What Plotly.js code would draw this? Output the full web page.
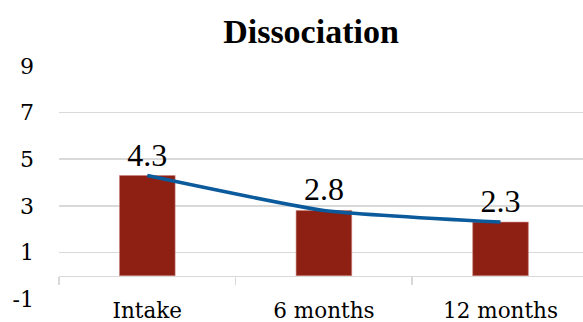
<!DOCTYPE html>
<html>
<head>
<meta charset="utf-8">
<script src="https://cdn.plot.ly/plotly-3.0.1.min.js"></script>
<style>html,body{margin:0;padding:0;background:#fff;}#chart{width:583px;height:322px;}</style>
</head>
<body>
<div id="chart"></div>
<script>
var categories = ["Intake", "6 months", "12 months"];
var values = [4.3, 2.8, 2.3];
var yTicks = [-1, 1, 3, 5, 7, 9];
var chartTitle = "Dissociation";

var idx = categories.map(function (c, i) { return i; });

var bars = {
  type: "bar",
  x: idx,
  y: values,
  width: 0.315,
  marker: { color: "#8e1f13", line: { color: "#c9837c", width: 0.6 } },
  text: values.map(function (v) { return v.toFixed(1); }),
  textposition: "outside",
  textfont: { family: "Liberation Serif", size: 32, color: "#000" },
  cliponaxis: false,
  hoverinfo: "skip",
  showlegend: false
};

var line = {
  type: "scatter",
  mode: "lines",
  x: idx,
  y: values,
  line: { color: "#0b5a9c", width: 3.5, shape: "spline", smoothing: 0.5 },
  hoverinfo: "skip",
  showlegend: false
};

var axisAtZero = {
  type: "scatter",
  mode: "lines",
  x: [null],
  y: [null],
  xaxis: "x2",
  yaxis: "y",
  hoverinfo: "skip",
  showlegend: false
};

var xr = [-0.5, 2.467];
var layout = {
  width: 583,
  height: 322,
  margin: { l: 59, r: 0, t: 66, b: 23 },
  paper_bgcolor: "#fff",
  plot_bgcolor: "#fff",
  title: {
    text: "<b>" + chartTitle + "</b>",
    font: { family: "Liberation Serif", size: 34, color: "#000" },
    x: 311 / 583,
    xanchor: "center",
    xref: "container",
    y: 1 - 31 / 322,
    yanchor: "middle",
    yref: "container"
  },
  xaxis: {
    range: xr,
    tickvals: idx,
    ticktext: categories,
    showgrid: false,
    zeroline: false,
    showline: false,
    ticks: "",
    ticklabelstandoff: -4,
    tickfont: { family: "DejaVu Serif", size: 21.5, color: "#000" }
  },
  xaxis2: {
    overlaying: "x",
    anchor: "free",
    position: 0.1,
    range: xr,
    tickvals: [-0.5, 0.5, 1.5, 2.5],
    showticklabels: false,
    showgrid: false,
    zeroline: false,
    showline: true,
    linecolor: "#d9d9d9",
    linewidth: 1.5,
    ticks: "outside",
    ticklen: 8,
    tickcolor: "#d9d9d9",
    tickwidth: 1.5
  },
  yaxis: {
    range: [-1, 9],
    tickvals: yTicks,
    ticktext: yTicks.map(String),
    showgrid: true,
    gridcolor: "#d9d9d9",
    gridwidth: 1.5,
    zeroline: false,
    showline: false,
    ticks: "",
    ticklabelstandoff: 24,
    tickfont: { family: "DejaVu Serif", size: 22, color: "#000" }
  },
  bargap: 0.685
};

Plotly.newPlot("chart", [bars, line, axisAtZero], layout, { staticPlot: true, displayModeBar: false });
</script>
</body>
</html>
